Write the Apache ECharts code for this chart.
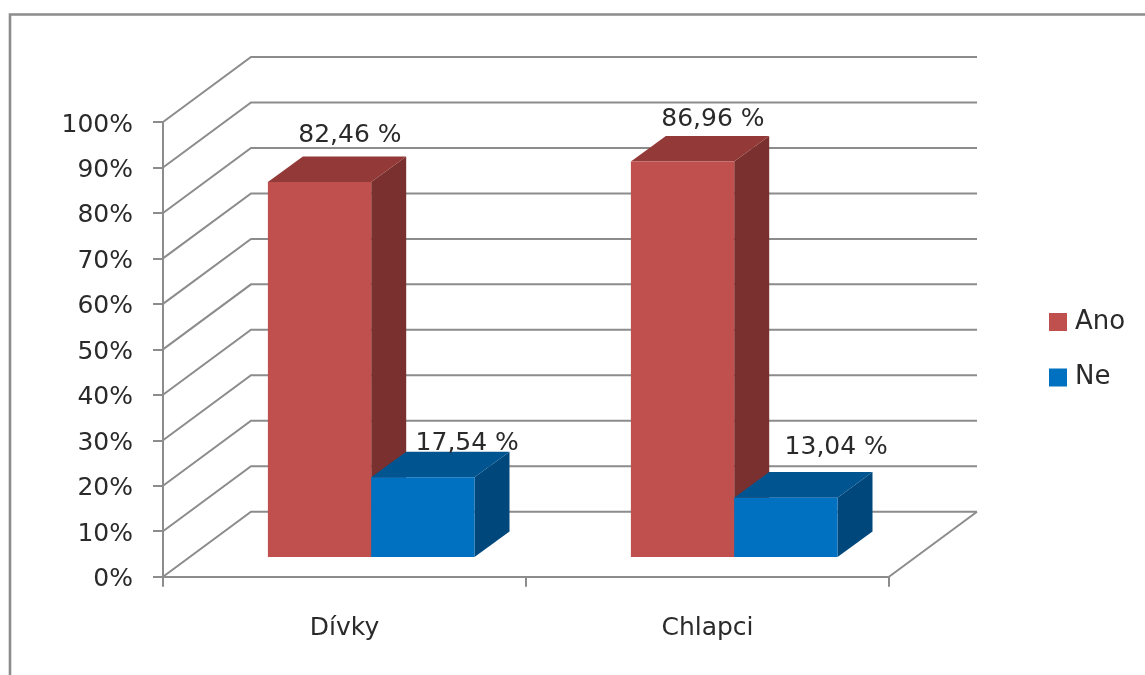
<!DOCTYPE html>
<html>
<head>
<meta charset="utf-8">
<style>
html,body{margin:0;padding:0;background:#fff;overflow:hidden}
#c{width:1145px;height:675px;filter:blur(0.5px)}
</style>
<script src="https://cdn.jsdelivr.net/npm/echarts@6/dist/echarts.min.js"></script>
</head>
<body>
<div id="c"></div>
<script>
var categories = ['Dívky', 'Chlapci'];
var ano = [82.46, 86.96];
var ne = [17.54, 13.04];
var ticks = [0, 10, 20, 30, 40, 50, 60, 70, 80, 90, 100];

// Oblique projection of the 3D look (pixels)
var WALL_DX = 88, WALL_DY = -65;
var BASE_DX = 26.7, BASE_DY = -19.7;
var SIDE_DX = 35, SIDE_DY = -25.6;
var BAR_FRACTION = 0.2846;
// Hand-placed label nudges from each bar's front-top-left corner
var anoNudge = [[82, -47], [82, -42]];
var neNudge = [[96, -34], [102, -50]];

var GRID_COLOR = '#8c8c8c';
var FONT = '"DejaVu Sans", sans-serif';
var TEXT = '#2a2a2a';

function fmt(v) { return v.toFixed(2).replace('.', ',') + ' %'; }

function wallItem(params, api) {
  var cs = params.coordSys;
  var v = api.value(0);
  var y = api.coord([0, v])[1];
  var x0 = cs.x, x1 = cs.x + cs.width;
  var children = [{
    type: 'polyline',
    shape: { points: [[x0, y], [x0 + WALL_DX, y + WALL_DY], [x1 + WALL_DX, y + WALL_DY]] },
    style: { stroke: GRID_COLOR, lineWidth: 2, fill: null }
  }];
  if (v === 0) {
    children.push({
      type: 'line',
      shape: { x1: x1, y1: y, x2: x1 + WALL_DX, y2: y + WALL_DY },
      style: { stroke: GRID_COLOR, lineWidth: 2 }
    });
  }
  return { type: 'group', children: children };
}

function barRenderer(slot, front, top, side, nudge) {
  return function (params, api) {
    var cat = api.value(0), val = api.value(1);
    var band = api.size([1, 0])[0];
    var w = band * BAR_FRACTION;
    var c = api.coord([cat, val]);
    var b = api.coord([cat, 0]);
    var xL = c[0] + slot * w + BASE_DX, xR = xL + w;
    var yT = c[1] + BASE_DY, yB = b[1] + BASE_DY;
    var n = nudge[params.dataIndex];
    return {
      type: 'group',
      children: [
        { type: 'polygon', shape: { points: [[xR, yT], [xR + SIDE_DX, yT + SIDE_DY], [xR + SIDE_DX, yB + SIDE_DY], [xR, yB]] }, style: { fill: side } },
        { type: 'polygon', shape: { points: [[xL, yT], [xL + SIDE_DX, yT + SIDE_DY], [xR + SIDE_DX, yT + SIDE_DY], [xR, yT]] }, style: { fill: top } },
        { type: 'rect', shape: { x: xL, y: yT, width: w, height: yB - yT }, style: { fill: front } },
        { type: 'text', x: xL + n[0], y: yT + n[1], style: { text: fmt(val), fill: TEXT, font: '25px ' + FONT, align: 'center', verticalAlign: 'middle' } }
      ]
    };
  };
}

function pairs(values) { return values.map(function (v, i) { return [i, v]; }); }

var chart = echarts.init(document.getElementById('c'), null, { renderer: 'canvas' });
chart.setOption({
  animation: false,
  backgroundColor: '#ffffff',
  graphic: [{
    type: 'rect', silent: true, z: 0,
    shape: { x: 10, y: 14.5, width: 1300, height: 800 },
    style: { fill: null, stroke: GRID_COLOR, lineWidth: 2.6 }
  }],
  grid: { left: 163, top: 122, width: 726, height: 454.7, containLabel: false },
  legend: {
    orient: 'vertical', left: 1049, top: 309,
    data: [{ name: 'Ano', icon: 'rect' }, { name: 'Ne', icon: 'rect' }],
    itemWidth: 18, itemHeight: 18, itemGap: 29.5,
    selectedMode: false,
    textStyle: { fontFamily: FONT, fontSize: 26, color: TEXT, padding: [0, 0, 0, 3] },
    padding: 0
  },
  xAxis: {
    type: 'category', data: categories,
    axisLine: { lineStyle: { color: GRID_COLOR, width: 2 } },
    axisTick: { show: true, length: 10, lineStyle: { color: GRID_COLOR, width: 2 } },
    axisLabel: { color: TEXT, fontFamily: FONT, fontSize: 25, margin: 39 },
    splitLine: { show: false }
  },
  yAxis: {
    type: 'value', min: 0, max: 100, interval: 10,
    axisLine: { show: true, lineStyle: { color: GRID_COLOR, width: 2 } },
    axisTick: { show: true, length: 10, lineStyle: { color: GRID_COLOR, width: 2 } },
    axisLabel: { color: TEXT, fontFamily: FONT, fontSize: 25, margin: 30, verticalAlign: 'top', lineHeight: 6, formatter: '{value}%' },
    splitLine: { show: false }
  },
  series: [
    { type: 'custom', name: 'wall', coordinateSystem: 'cartesian2d', silent: true, z: 1,
      encode: { y: 0 }, data: ticks.map(function (t) { return [t]; }), renderItem: wallItem },
    { type: 'custom', name: 'Ano', coordinateSystem: 'cartesian2d', z: 2,
      itemStyle: { color: '#C0504D' }, encode: { x: 0, y: 1 }, data: pairs(ano),
      renderItem: barRenderer(-1, '#C0504D', '#933937', '#7A302E', anoNudge) },
    { type: 'custom', name: 'Ne', coordinateSystem: 'cartesian2d', z: 3,
      itemStyle: { color: '#0070C0' }, encode: { x: 0, y: 1 }, data: pairs(ne),
      renderItem: barRenderer(0, '#0070C0', '#005490', '#00477C', neNudge) }
  ]
});
</script>
</body>
</html>
